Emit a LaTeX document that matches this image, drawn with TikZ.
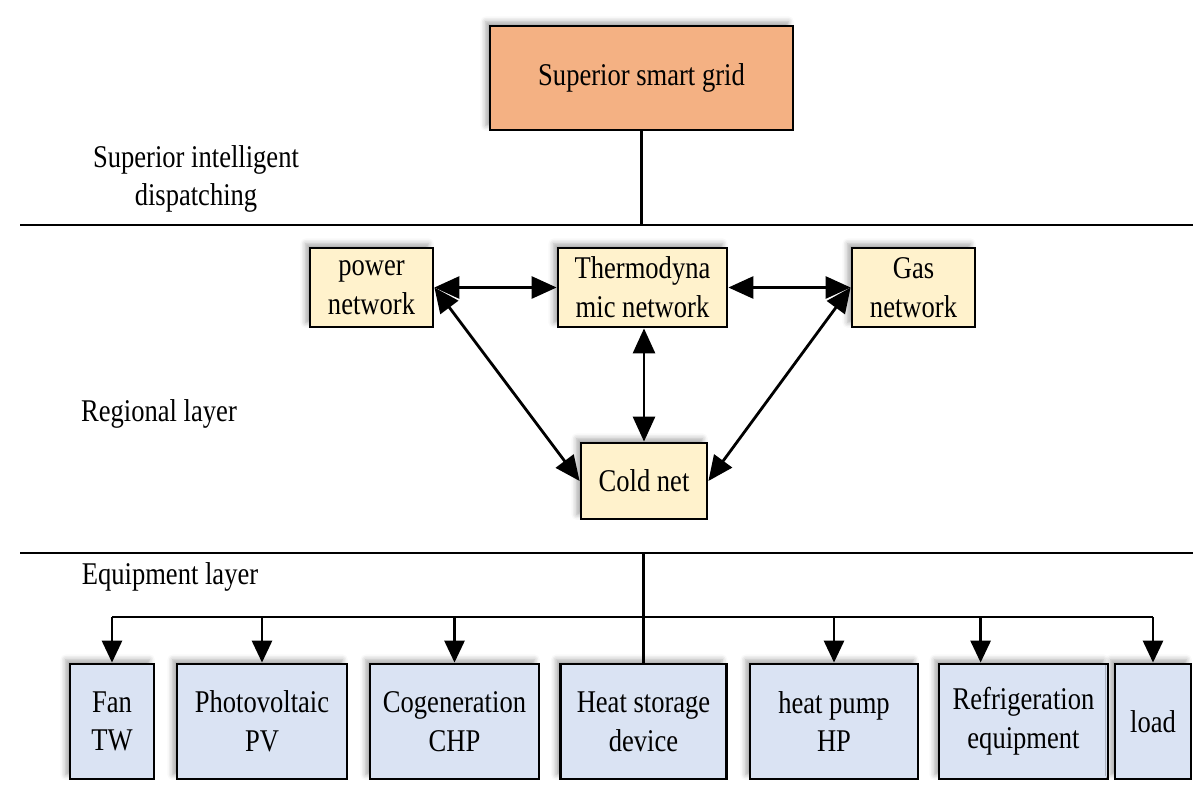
\documentclass[tikz,border=0pt]{standalone}
\usepackage{fontspec}
\setmainfont{Liberation Serif}[FakeStretch=0.84]
\usetikzlibrary{arrows.meta,shadows.blur}
\definecolor{salmon}{HTML}{F4B183}
\definecolor{cream}{HTML}{FFF2CC}
\definecolor{paleblue}{HTML}{DAE3F3}
\begin{document}
\begin{tikzpicture}[x=0.02cm,y=-0.02cm,
  every node/.style={font=\fontsize{18}{22}\selectfont, align=center, inner sep=0pt},
  box/.style={draw=black, line width=1.6pt,
    blur shadow={shadow xshift=-2.5pt, shadow yshift=2.5pt, shadow blur radius=3pt, shadow opacity=35}},
  topbox/.style={box, fill=salmon},
  netbox/.style={box, fill=cream, minimum height=1.58cm},
  eqbox/.style={box, fill=paleblue, minimum height=2.3cm},
  ln/.style={line width=1.6pt, draw=black},
  bigarr/.style={ln, {Triangle[length=0.5cm,width=0.44cm]}-{Triangle[length=0.5cm,width=0.44cm]}},
  downarr/.style={ln, -{Triangle[length=0.44cm,width=0.4cm]}},
  lbl/.style={}]
\useasboundingbox (0,0) rectangle (1200,791);

% layer lines
\coordinate (L1W) at (20,225);
\coordinate (L1E) at (1193,225);
\coordinate (L2W) at (20,553);
\coordinate (L2E) at (1193,553);
\draw[ln] (L1W) -- (L1E);
\draw[ln] (L2W) -- (L2E);

% layer labels
\node[lbl] (lab1) at (196,179) {Superior intelligent\\dispatching};
\node[lbl] (lab2) at (159,414) {Regional layer};
\node[lbl] (lab3) at (170,577) {Equipment layer};

% top
\node[topbox, minimum width=6.06cm, minimum height=2.08cm] (sg) at (641.5,78) {Superior smart grid};
\draw[ln] (sg.south) -- (sg.south |- L1W);

% regional layer
\node[netbox, minimum width=2.46cm] (pn) at (371.5,287.5) {power\\network};
\node[netbox, minimum width=3.38cm] (th) at (642.5,287.5) {Thermodyna\\mic network};
\node[netbox, minimum width=2.46cm] (gn) at (913.5,287.5) {Gas\\network};
\node[netbox, minimum width=2.52cm, minimum height=1.52cm] (cn) at (644,481) {Cold net};

\draw[bigarr] (pn.east) -- (th.west);
\draw[bigarr] (th.east) -- (gn.west);
\draw[bigarr] (th.south -| cn.north) -- (cn.north);
\draw[bigarr] (pn.east) -- (cn.west);
\draw[bigarr] (gn.west) -- (cn.east);

% equipment layer
\node[eqbox, minimum width=1.68cm] (fan) at (112,721.5) {Fan\\TW};
\node[eqbox, minimum width=3.4cm] (pv) at (262,721.5) {Photovoltaic\\PV};
\node[eqbox, minimum width=3.38cm] (chp) at (454.5,721.5) {Cogeneration\\CHP};
\node[eqbox, minimum width=3.32cm] (hs) at (643.5,721.5) {Heat storage\\device};
\node[eqbox, minimum width=3.36cm] (hp) at (834,721.5) {heat pump\\HP};
\node[eqbox, minimum width=3.38cm] (re) at (1023.5,721.5) {Refrigeration\\equipment};
\node[eqbox, minimum width=1.52cm] (ld) at (1153,721.5) {load};

\coordinate (bus) at (0,617);
\coordinate (reN) at ([xshift=0.86cm]re.north west);
\draw[ln] (hs.north |- L2W) -- (hs.north);
\draw[ln] (fan.north |- bus) -- (ld.north |- bus);
\draw[downarr] (fan.north |- bus) -- (fan.north);
\draw[downarr] (pv.north |- bus) -- (pv.north);
\draw[downarr] (chp.north |- bus) -- (chp.north);
\draw[downarr] (hp.north |- bus) -- (hp.north);
\draw[downarr] (reN |- bus) -- (reN);
\draw[downarr] (ld.north |- bus) -- (ld.north);
\end{tikzpicture}
\end{document}
